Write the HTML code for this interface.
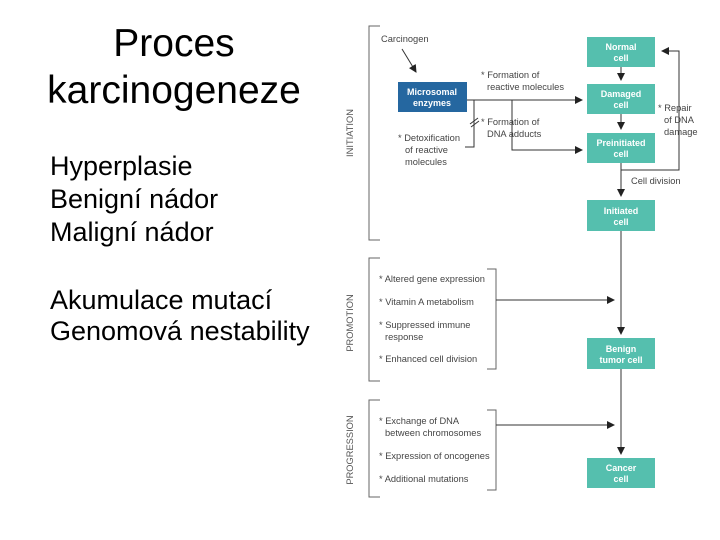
<!DOCTYPE html>
<html><head><meta charset="utf-8"><style>
body{margin:0;background:#fff;width:720px;height:540px;overflow:hidden;position:relative;font-family:"Liberation Sans",sans-serif}
.t{position:absolute;color:#000;white-space:nowrap}
</style></head><body>
<div class="t" style="left:0;width:348px;text-align:center;top:20px;font-size:39px;line-height:47px">Proces<br>karcinogeneze</div>
<div class="t" style="left:50px;top:150px;font-size:27px;line-height:33px">Hyperplasie<br>Benigní nádor<br>Maligní nádor</div>
<div class="t" style="left:50px;top:285px;font-size:27px;line-height:31px">Akumulace mutací<br>Genomová nestability</div>
<svg width="720" height="540" style="position:absolute;left:0;top:0" font-family="Liberation Sans, sans-serif">
<defs><marker id="a" markerWidth="8" markerHeight="8" refX="7" refY="4" orient="auto" markerUnits="userSpaceOnUse"><path d="M0,0L8,4L0,8z" fill="#222"/></marker></defs>
<g stroke="#666" fill="none" stroke-width="1">
<path d="M380,26H369V240H380"/>
<path d="M380,258H369V381H380"/>
<path d="M380,400H369V497H380"/>
<path d="M487,269H496V369H487"/>
<path d="M487,410H496V490H487"/>
</g>
<g font-size="9.3" fill="#555" text-anchor="middle">
<text transform="translate(353,133) rotate(-90)">INITIATION</text>
<text transform="translate(353,323) rotate(-90)">PROMOTION</text>
<text transform="translate(353,450) rotate(-90)">PROGRESSION</text>
</g>
<g fill="#55bfae">
<rect x="587" y="37" width="68" height="30"/>
<rect x="587" y="84" width="68" height="30"/>
<rect x="587" y="133" width="68" height="30"/>
<rect x="587" y="200" width="68" height="31"/>
<rect x="587" y="338" width="68" height="31"/>
<rect x="587" y="458" width="68" height="30"/>
</g>
<rect x="398" y="82" width="69" height="30" fill="#2567a0"/>
<g fill="#fff" font-size="9" font-weight="bold" text-anchor="middle">
<text x="621" y="50">Normal</text><text x="621" y="61">cell</text>
<text x="621" y="97">Damaged</text><text x="621" y="108">cell</text>
<text x="621" y="146">Preinitiated</text><text x="621" y="157">cell</text>
<text x="621" y="214">Initiated</text><text x="621" y="225">cell</text>
<text x="621" y="352">Benign</text><text x="621" y="363">tumor cell</text>
<text x="621" y="471">Cancer</text><text x="621" y="482">cell</text>
<text x="432" y="95">Microsomal</text><text x="432" y="106">enzymes</text>
</g>
<g stroke="#333" fill="none" stroke-width="1">
<path d="M621,67V80" marker-end="url(#a)"/>
<path d="M621,114V129" marker-end="url(#a)"/>
<path d="M621,163V196" marker-end="url(#a)"/>
<path d="M621,231V334" marker-end="url(#a)"/>
<path d="M621,369V454" marker-end="url(#a)"/>
<path d="M621,170H679V51H662" marker-end="url(#a)"/>
<path d="M467,100H582" marker-end="url(#a)"/>
<path d="M512,100V150H582" marker-end="url(#a)"/>
<path d="M474,100V147H465"/>
<path d="M470,124L478,118M471,127L479,121"/>
<path d="M496,300H614" marker-end="url(#a)"/>
<path d="M496,425H614" marker-end="url(#a)"/>
<path d="M402,49L416,72" marker-end="url(#a)"/>
</g>
<g fill="#444" font-size="9.3">
<text x="381" y="42">Carcinogen</text>
<text x="481" y="78">* Formation of</text><text x="487" y="90">reactive molecules</text>
<text x="481" y="125">* Formation of</text><text x="487" y="137">DNA adducts</text>
<text x="398" y="141">* Detoxification</text><text x="405" y="153">of reactive</text><text x="405" y="165">molecules</text>
<text x="658" y="111">* Repair</text><text x="664" y="123">of DNA</text><text x="664" y="135">damage</text>
<text x="631" y="184">Cell division</text>
<text x="379" y="282">* Altered gene expression</text>
<text x="379" y="305">* Vitamin A metabolism</text>
<text x="379" y="328">* Suppressed immune</text><text x="385" y="340">response</text>
<text x="379" y="362">* Enhanced cell division</text>
<text x="379" y="424">* Exchange of DNA</text><text x="385" y="436">between chromosomes</text>
<text x="379" y="459">* Expression of oncogenes</text>
<text x="379" y="482">* Additional mutations</text>
</g>
</svg>
</body></html>
